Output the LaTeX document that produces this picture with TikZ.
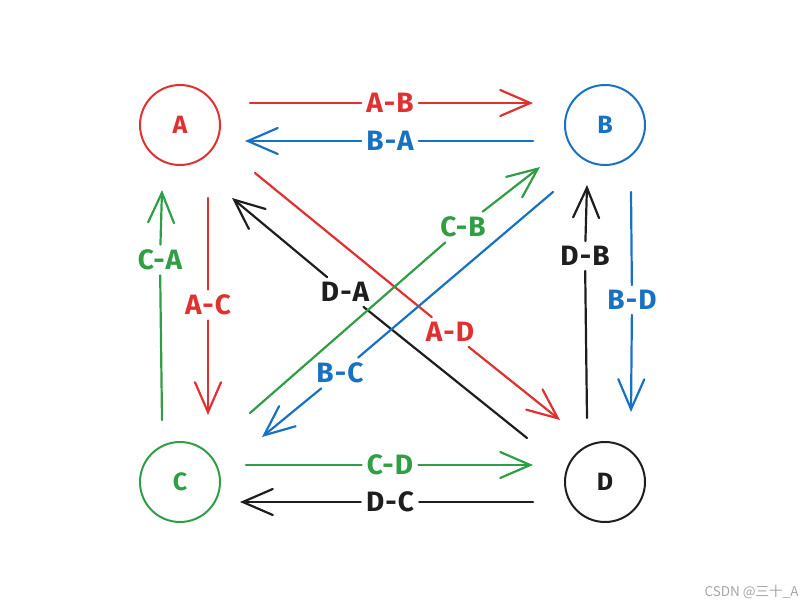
\documentclass[tikz,border=0pt]{standalone}
\usepackage{fontspec}
\setmainfont{Fira Sans}[LetterSpace=4]
\newfontfamily\cjk{Noto Sans CJK SC}
\usetikzlibrary{arrows.meta}
\definecolor{exred}{HTML}{E03131}
\definecolor{exblue}{HTML}{1971C2}
\definecolor{exgreen}{HTML}{2F9E44}
\definecolor{exblack}{HTML}{1E1E1E}
\begin{document}
\begin{tikzpicture}[x=1pt,y=-1pt,
  state/.style={circle,draw=#1,text=#1,line width=2pt,minimum size=80pt,inner sep=0pt,font=\fontsize{25}{27}\selectfont\bfseries},
  lab/.style={text=#1,inner sep=5pt,font=\fontsize{28}{30}\selectfont\bfseries},
  conn/.style={draw=#1,line width=2.2pt,line cap=round},
  tip/.style={-{Straight Barb[length=30pt,width=26pt,line cap=round]}}
]
\useasboundingbox (0,0) rectangle (808,610);
% states
\node[state=exred]   (A) at (180,125) {A};
\node[state=exblue]  (B) at (605,125) {B};
\node[state=exgreen] (C) at (180,482) {C};
\node[state=exblack] (D) at (605,482) {D};
% end points
\coordinate (ab1) at (250,103); \coordinate (ab2) at (533,103);
\coordinate (ba1) at (533,141); \coordinate (ba2) at (245,141);
\coordinate (ac1) at (208,198); \coordinate (ac2) at (208,415);
\coordinate (ca1) at (162,420); \coordinate (ca2) at (162,190);
\coordinate (bd1) at (631,192); \coordinate (bd2) at (631,412);
\coordinate (db1) at (587,418); \coordinate (db2) at (587,185);
\coordinate (cd1) at (246,465); \coordinate (cd2) at (533,465);
\coordinate (dc1) at (533,502); \coordinate (dc2) at (240,502);
\coordinate (ad1) at (255,173); \coordinate (ad2) at (560,420);
\coordinate (da1) at (527,438); \coordinate (da2) at (232,198);
\coordinate (cb1) at (250,413); \coordinate (cb2) at (540,167);
\coordinate (bc1) at (553,192); \coordinate (bc2) at (262,437);
% labels
\node[lab=exred]   (lAB) at (390,103) {A-B};
\node[lab=exblue]  (lBA) at (390,141) {B-A};
\node[lab=exred]   (lAC) at (208,305) {A-C};
\node[lab=exgreen] (lCA) at (160,260) {C-A};
\node[lab=exblue]  (lBD) at (632,300) {B-D};
\node[lab=exblack] (lDB) at (585,256) {D-B};
\node[lab=exgreen] (lCD) at (390,465) {C-D};
\node[lab=exblack] (lDC) at (390,502) {D-C};
\node[lab=exred]   (lAD) at (450,332) {A-D};
\node[lab=exblack] (lDA) at (345,292) {D-A};
\node[lab=exgreen] (lCB) at (463,227) {C-B};
\node[lab=exblue]  (lBC) at (340,373) {B-C};
% connectors
\draw[conn=exred] (ab1) -- (lAB); \draw[conn=exred,tip] (lAB) -- (ab2);
\draw[conn=exblue] (ba1) -- (lBA); \draw[conn=exblue,tip] (lBA) -- (ba2);
\draw[conn=exred] (ac1) -- (lAC); \draw[conn=exred,tip] (lAC) -- (ac2);
\draw[conn=exgreen] (ca1) -- (lCA); \draw[conn=exgreen,tip] (lCA) -- (ca2);
\draw[conn=exblue] (bd1) -- (lBD); \draw[conn=exblue,tip] (lBD) -- (bd2);
\draw[conn=exblack] (db1) -- (lDB); \draw[conn=exblack,tip] (lDB) -- (db2);
\draw[conn=exgreen] (cd1) -- (lCD); \draw[conn=exgreen,tip] (lCD) -- (cd2);
\draw[conn=exblack] (dc1) -- (lDC); \draw[conn=exblack,tip] (lDC) -- (dc2);
\draw[conn=exred] (ad1) -- (lAD); \draw[conn=exred,tip] (lAD) -- (ad2);
\draw[conn=exblack] (da1) -- (lDA); \draw[conn=exblack,tip] (lDA) -- (da2);
\draw[conn=exgreen] (cb1) -- (lCB); \draw[conn=exgreen,tip] (lCB) -- (cb2);
\draw[conn=exblue] (bc1) -- (lBC); \draw[conn=exblue,tip] (lBC) -- (bc2);
% watermark
\node[text=black!35,font=\cjk\fontsize{13.5}{15}\selectfont,anchor=east] (wm) at (802,592) {CSDN @三十\_A};
\end{tikzpicture}
\end{document}
